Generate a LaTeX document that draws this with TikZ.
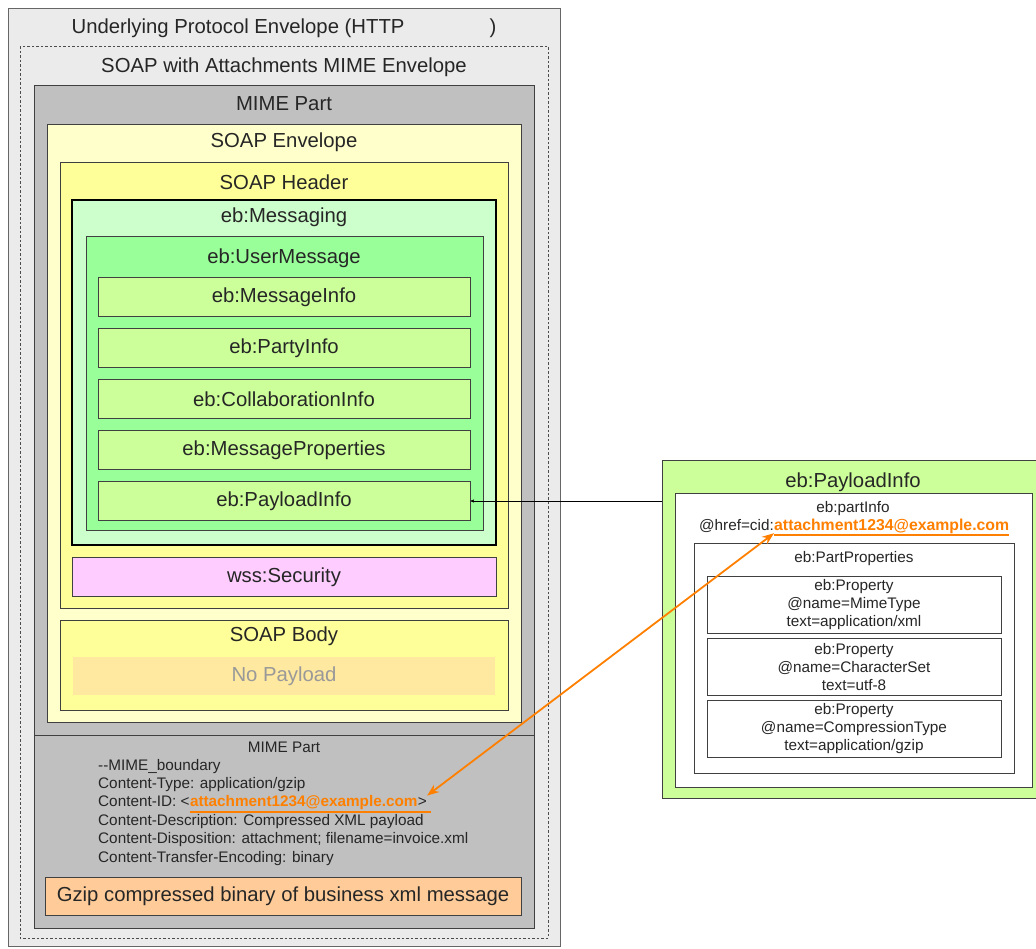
\documentclass[tikz,border=0pt]{standalone}
\usepackage{fontspec}
\setmainfont{Liberation Sans}
\usetikzlibrary{arrows,arrows.meta,positioning}

\definecolor{envgray}{HTML}{EBEBEB}
\definecolor{mimegray}{HTML}{C0C0C0}
\definecolor{soapenv}{HTML}{FFFFCC}
\definecolor{soaphead}{HTML}{FFFF99}
\definecolor{msgmint}{HTML}{CCFFCC}
\definecolor{usergreen}{HTML}{99FF99}
\definecolor{itemgreen}{HTML}{CCFF99}
\definecolor{secpink}{HTML}{FFCCFF}
\definecolor{nopay}{HTML}{FFE8A0}
\definecolor{gzipbox}{HTML}{FFCC99}
\definecolor{cidorange}{HTML}{FF8000}

\begin{document}
\begin{tikzpicture}[x=1pt,y=-1pt,>=stealth',
    box/.style={draw=black!75,line width=1pt},
    title/.style={font=\fontsize{20.3}{22}\selectfont,text=black!85},
    small/.style={font=\fontsize{15.3}{18}\selectfont,text=black!85,inner sep=0pt,text height=11pt,text depth=3pt},
    item/.style={box,fill=itemgreen,minimum width=372pt,minimum height=39pt,title},
    prop/.style={box,fill=white,minimum width=294pt,minimum height=57pt,align=center,inner sep=1pt,
      font=\fontsize{15.3}{18}\selectfont,text=black!85}]
  \useasboundingbox (0,0) rectangle (1036,948);

  % left: nested envelopes
  \draw[box,draw=black!60,fill=envgray] (8,8) rectangle (560,946);
  \node[title] (proto) at (284,28) {Underlying Protocol Envelope (HTTP\hspace{85pt})};
  \draw[black!70,dash pattern=on 2.5pt off 2pt,fill=envgray] (20,46) rectangle (548,938);
  \node[title] (swa) at (284,67) {SOAP with Attachments MIME Envelope};
  \draw[box,fill=mimegray] (34,85) rectangle (534,928);
  \draw[box] (34,735) -- (534,735);
  \node[title] (mime) at (284,104) {MIME Part};
  \draw[box,fill=soapenv] (47,124) rectangle (521,722);
  \node[title] (env) at (284,142) {SOAP Envelope};
  \draw[box,fill=soaphead] (60,162) rectangle (508,608);
  \node[title] (head) at (284,182) {SOAP Header};
  \draw[line width=2pt,fill=msgmint] (72,200) rectangle (496,545);
  \node[title] (msging) at (284,217) {eb:Messaging};
  \draw[box,fill=usergreen] (86,236) rectangle (483,530);
  \node[title] (usermsg) at (284,258) {eb:UserMessage};
  \foreach \nm [count=\i] in {MessageInfo,PartyInfo,CollaborationInfo,MessageProperties,PayloadInfo}
    \node[item] (item\i) at (284,246+51*\i) {eb:\nm};
  \node[box,fill=secpink,minimum width=424pt,minimum height=39pt,title] (wss) at (284,577) {wss:Security};
  \draw[box,fill=soaphead] (60,620) rectangle (508,710);
  \node[title] (body) at (284,636) {SOAP Body};
  \node[fill=nopay,minimum width=422pt,minimum height=38pt,title,text=black!40] (nopay) at (284,676) {No Payload};

  % attachment part
  \node[small] (mime2) at (284,748) {MIME Part};
  \node[small,anchor=west] (bnd) at (98,766) {-{}-MIME\_boundary};
  \node[small,below=4pt of bnd.south west,anchor=north west] (ctype) {Content-Type: application/gzip};
  \node[small,below=4pt of ctype.south west,anchor=north west] (cidpre) {Content-ID: <};
  \node[small,right=0pt of cidpre,text=cidorange,font=\fontsize{15.3}{18}\selectfont\bfseries] (cidval) {attachment1234@example.com};
  \node[small,right=0pt of cidval] (cidpost) {>};
  \node[small,below=4pt of cidpre.south west,anchor=north west] (cdesc) {Content-Description: Compressed XML payload};
  \node[small,below=4pt of cdesc.south west,anchor=north west] (cdisp) {Content-Disposition: attachment; filename=invoice.xml};
  \node[small,below=4pt of cdisp.south west,anchor=north west] (cenc) {Content-Transfer-Encoding: binary};
  \draw[cidorange,line width=1.5pt] ([yshift=-2pt]cidval.south west) -- ([yshift=-2pt,xshift=4pt]cidpost.south east);
  \node[box,fill=gzipbox,minimum width=476pt,minimum height=38pt,font=\fontsize{20.3}{22}\selectfont,text=black!85] (gzip) at (283,896) {Gzip compressed binary of business xml message};

  % right: payload info detail
  \node[box,fill=itemgreen,minimum width=380pt,minimum height=338pt] (plbox) at (852,629) {};
  \node[title] (pltitle) at (853,482) {eb:PayloadInfo};
  \draw[box,fill=white] (675,493) rectangle (1032,787);
  \node[small] (pinfo) at (853,508) {eb:partInfo};
  \node[small,anchor=east] (hrefpre) at (774,526) {@href=cid:};
  \node[small,right=0pt of hrefpre,text=cidorange,font=\fontsize{15.8}{18}\selectfont\bfseries] (hrefval) {attachment1234@example.com};
  \draw[cidorange,line width=1.5pt] ([yshift=-2pt]hrefval.south west) -- ([yshift=-2pt]hrefval.south east);
  \draw[box,fill=white] (694,543) rectangle (1014,773);
  \node[small] (pprops) at (854,558) {eb:PartProperties};
  \node[prop] (prop1) at (854,605) {eb:Property\\@name=MimeType\\text=application/xml};
  \node[prop,below=4pt of prop1] (prop2) {eb:Property\\@name=CharacterSet\\text=utf-8};
  \node[prop,below=4pt of prop2] (prop3) {eb:Property\\@name=CompressionType\\text=application/gzip};

  % references
  \path[->] (plbox.west |- item5.east) edge (item5.east);
  \draw[cidorange,line width=1.8pt,{Stealth[length=12pt,width=9pt]}-{Stealth[length=12pt,width=9pt]}] (cidpost.north east) -- (hrefval.south west);
\end{tikzpicture}
\end{document}
